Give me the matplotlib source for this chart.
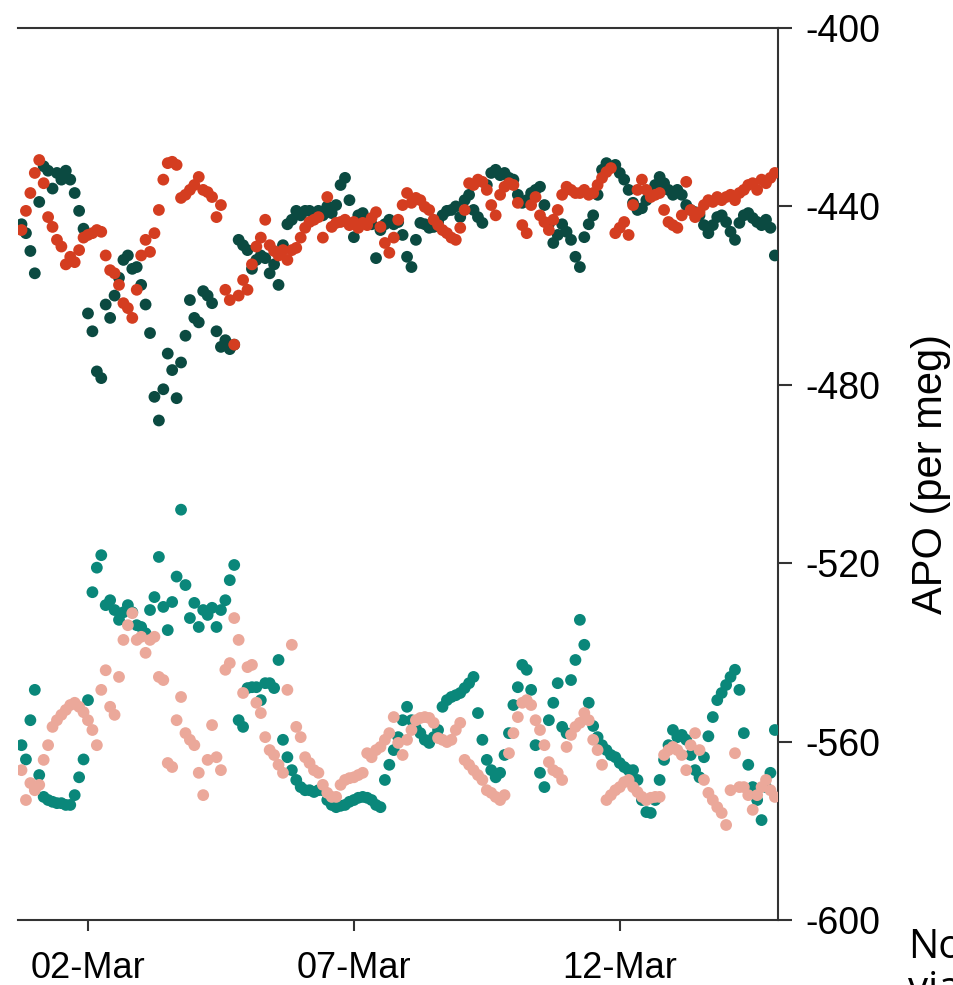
import pandas as pd
import matplotlib
matplotlib.use('Agg')
import matplotlib.pyplot as plt
import matplotlib.dates as mdates

plt.rcParams['font.family'] = ['Liberation Sans', 'DejaVu Sans']
plt.rcParams['axes.unicode_minus'] = False

# 2-hourly readings, 28 Feb 18:00 onwards
times = pd.date_range('2021-02-28 18:00', periods=171, freq='2h')

# upper pair (per meg)
dark_green = [
    -444, -446, -450, -455, -439, -431, -432, -436, -432.5, -434, -432, -434,
    -437, -441, -445, -464, -468, -477, -478.5, -462, -465, -460, -456, -452,
    -451, -454, -453.6, -457.6, -462, -468.4, -482.7, -488, -481, -473, -476.7, -483,
    -475, -469, -461, -465, -466, -459, -460, -461.7, -468, -471.5, -470, -472,
    -471, -447.5, -448.7, -449.8, -454, -452, -451, -451.6, -455, -453, -457.6, -448.7,
    -444, -443, -441, -442, -441, -441, -441.5, -441, -442, -440, -441.5, -439.7,
    -435.2, -433.6, -438.6, -446.9, -442, -441.5, -443, -444, -451.6, -445.3, -444, -443,
    -444, -443.5, -446.4, -451.3, -453.6, -447.5, -443.7, -444, -444.8, -444.6, -443.5, -442,
    -441, -440.8, -440, -442.4, -438.6, -437.4, -440.8, -442.4, -443.7, -435.2, -432.5, -431.8,
    -433, -432.5, -433.6, -434, -437.4, -439.2, -438.6, -437, -436.3, -435.6, -439.7, -444,
    -448.2, -446.4, -444, -445.7, -447.5, -451.3, -453.6, -446.9, -444, -442, -437.4, -431.8,
    -430.3, -431.2, -430.7, -432.5, -434, -436.3, -439.2, -440.8, -440.4, -438.6, -437.4, -435.2,
    -433.4, -434.8, -436.3, -437.4, -436.3, -437.4, -439.7, -440.8, -441.3, -442, -444.2, -446,
    -444.2, -442.4, -442, -443.5, -445.7, -447.5, -443.7, -442, -441.5, -442.6, -443.5, -444.2,
    -443, -444.8, -451,
]
red = [
    -445.3, -441, -437, -432.5, -429.6, -434.8, -442.4, -444.6, -447.5, -449, -453, -451.3,
    -452.5, -449.8, -447, -446.4, -446, -445.3, -445.7, -451, -454.3, -455, -457.6, -461.7,
    -462.8, -465, -458.7, -451, -447.5, -450.2, -446, -440.8, -434, -430.3, -430, -430.7,
    -438.1, -437.4, -436.3, -435.2, -433.4, -436.3, -436.8, -437.9, -442.4, -439.7, -458.7, -461,
    -471, -460, -456.5, -458.7, -453, -449, -447, -443, -448.7, -450, -451, -449.8,
    -452, -449.8, -449.3, -447, -444.8, -443.5, -443, -442.4, -447, -437.9, -444.6, -443.7,
    -443.5, -443, -444.2, -443.5, -444.8, -443.7, -444.2, -442.6, -441.3, -444.6, -448.2, -450.4,
    -447, -443, -439.7, -437, -439.2, -438.1, -438.6, -440.1, -440.8, -443, -444.2, -445.3,
    -446, -447, -447.5, -444.8, -440.8, -434.8, -435.2, -434, -434.5, -436.3, -439.7, -442,
    -437.4, -435.6, -434.8, -435.2, -439.2, -444.2, -446, -439.7, -437.9, -442, -443.5, -445.3,
    -443, -440.8, -437.4, -435.6, -436.3, -437, -437, -436.3, -437.4, -437, -435.2, -433.6,
    -432.3, -431.4, -446, -444.8, -443.5, -446.4, -439.7, -436.3, -434, -436.3, -437.9, -437.4,
    -437, -440.8, -443.5, -444.2, -444.8, -442, -434.5, -440.8, -442.4, -441.3, -439.7, -438.6,
    -439, -437.9, -438.6, -437.9, -437.4, -438.6, -437, -436.3, -435.2, -434.8, -436.3, -434,
    -434.8, -433.6, -432.5,
]

# lower pair (per meg)
teal = [
    -560.8, -564, -555.2, -548.4, -567.5, -572.4, -573.1, -573.5, -573.8, -573.8, -574.2, -574.2,
    -572, -568, -564, -550.7, -526.5, -521, -518.2, -529.4, -528.3, -530.5, -532.7, -531,
    -529.4, -531, -533.9, -534.3, -535.7, -530.5, -527.6, -518.6, -529.8, -535, -528.7, -523,
    -508, -524.9, -532.3, -528.9, -534.3, -530.5, -531.6, -530, -534.3, -530.5, -528.3, -523.8,
    -520.4, -555.2, -556.7, -548, -547.8, -547.8, -550.7, -546.9, -546.9, -548, -541.7, -559.6,
    -563.5, -566.4, -568.6, -570.2, -570.9, -570.9, -571.3, -570.9, -570.9, -573.1, -574.2, -574.7,
    -574.4, -574.2, -573.5, -573.1, -572.6, -572.4, -572.6, -573.1, -574.2, -574.7, -568.6, -565.2,
    -561.9, -559, -555.2, -552.2, -555.2, -557, -558.1, -559.6, -560.3, -559, -557.4, -552.2,
    -550.7, -550, -549.6, -549.1, -548, -546.9, -545.5, -553.6, -559.6, -564.1, -566.4, -568,
    -567, -563, -558.1, -551.8, -547.8, -542.8, -543.9, -548.4, -560.8, -567, -570.2, -555.2,
    -551.3, -546.9, -556.7, -558.1, -546.2, -541.7, -532.7, -538.3, -551.3, -556.5, -559, -560.8,
    -561.9, -563, -563.5, -564.8, -565.7, -566.4, -566.4, -568.6, -573.1, -575.8, -576, -573.1,
    -568.6, -564.1, -560.8, -557.4, -559, -558.5, -559.6, -563, -566.4, -568, -563.5, -558.8,
    -554.5, -550.7, -549.1, -547.3, -545.5, -543.9, -548.4, -558.1, -565.2, -570.2, -573.1, -577.6,
    -570.2, -567, -557.4,
]
pink = [
    -566.4, -573.1, -569.3, -570.9, -569.7, -564.1, -560.8, -556.7, -555.2, -554, -552.9, -551.8,
    -551.3, -552.2, -553.4, -555.2, -557.4, -560.8, -548.4, -544, -552.2, -554, -545.5, -537.2,
    -533.9, -531.2, -537.2, -536.5, -540.1, -537.2, -536.5, -545.5, -546.2, -564.8, -565.7, -555.2,
    -550, -558.1, -559.6, -560.8, -567, -572, -564.1, -556.3, -563.5, -566.4, -543.9, -542.4,
    -532.3, -537.2, -549.1, -543.3, -542.8, -551.3, -553.6, -559, -561.9, -563, -565.2, -567,
    -548.4, -538.3, -556.7, -559, -563.5, -564.8, -566.4, -567, -569.7, -571.5, -572.4, -572.4,
    -569.7, -568.6, -568.2, -568, -567.5, -567, -562.6, -563.5, -561.9, -561.2, -559.6, -558.1,
    -554.5, -560.3, -563, -559.6, -557.4, -555.2, -554.7, -554.5, -554.7, -555.8, -559.2, -559.6,
    -560.1, -559.6, -557.4, -555.8, -564.1, -565.2, -566.4, -567.5, -568.6, -570.9, -571.5, -572.4,
    -573.1, -572, -562.6, -558.1, -554.5, -551.3, -550.7, -551.8, -555.2, -557.4, -560.8, -564.6,
    -566.4, -567, -568.6, -561.2, -558.5, -556.7, -555.8, -553.6, -555.2, -559.6, -561.9, -565.2,
    -573.1, -572, -570.9, -570.2, -569.1, -568.6, -570.2, -571.3, -572.4, -573.1, -572.6, -572.4,
    -572.4, -563, -561.9, -561.2, -561.9, -563, -566.4, -560.8, -558.1, -561.9, -568.6, -571.5,
    -573.1, -574.7, -576, -578.7, -570.9, -562.6, -570.2, -570.2, -572, -575.3, -572, -570.2,
    -568.6, -570.9, -572.4,
]

colors = {'dark_green': '#0b4a41', 'red': '#d43d20', 'teal': '#0a877a', 'pink': '#eba89a'}

fig = plt.figure(figsize=(9.54, 9.85), dpi=100)
ax = fig.add_axes([18 / 954, 1 - 920 / 985, 760 / 954, 892 / 985])

for vals, key in [(dark_green, 'dark_green'), (red, 'red'), (teal, 'teal'), (pink, 'pink')]:
    ax.scatter(times, vals, s=72, color=colors[key], edgecolors='none', zorder=3)

ax.set_xlim(pd.Timestamp('2021-02-28 16:25'), pd.Timestamp('2021-03-14 23:25'))
ax.set_ylim(-600, -400)
ax.set_yticks(range(-600, -399, 40))
ax.xaxis.set_major_locator(mdates.DayLocator(bymonthday=[2, 7, 12]))
ax.xaxis.set_major_formatter(mdates.DateFormatter('%d-%b'))

ax.yaxis.tick_right()
ax.yaxis.set_label_position('right')
ax.set_ylabel('APO (per meg)', fontsize=30, labelpad=22)

ax.spines['left'].set_visible(False)
for side in ['top', 'bottom', 'right']:
    ax.spines[side].set_linewidth(1.5)
    ax.spines[side].set_color('#333333')
ax.tick_params(axis='y', which='both', left=False, right=True, length=10, width=1.5,
               color='#333333', labelsize=27, pad=10)
ax.tick_params(axis='x', length=8, width=1.5, color='#333333', labelsize=26, pad=14)

# footnote, cut off at the right edge as in the source image
fig.text(908 / 954, 1 - 958 / 985, 'Note:', fontsize=29, family=['Open Sans', 'DejaVu Sans'],
         va='baseline')
fig.text(908 / 954, 1 - 1000 / 985, 'via', fontsize=29, family=['Open Sans', 'DejaVu Sans'],
         va='baseline')

fig.savefig('out.png', dpi=100)
